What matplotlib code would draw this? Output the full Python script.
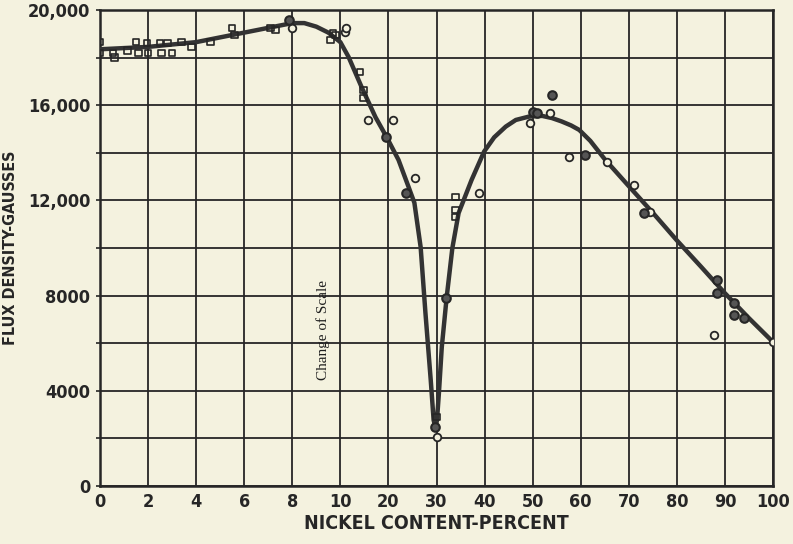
import numpy as np
import matplotlib
matplotlib.use("Agg")
import matplotlib.pyplot as plt
from matplotlib import font_manager

# ---- data ----
curve_x = [0, 1, 2, 3, 4, 5, 6, 7, 8, 8.5, 9, 9.5, 10, 11.7, 14.4, 17.3, 19.6, 22.1,
           24.2, 25.4, 26.7, 27.7, 28.8, 29.4, 29.8, 30.1, 30.5, 31.1, 32.1, 33.3,
           34.6, 37.3, 39.9, 42, 44.4, 46.5, 49.2, 52, 54, 56, 58, 59.7, 62, 65, 70,
           75, 80, 85, 90, 95, 100]
curve_y = [18350, 18400, 18450, 18550, 18650, 18850, 19050, 19250, 19450, 19450,
           19300, 19050, 18650, 18030, 16770, 15500, 14670, 13700, 12560, 11900,
           10040, 7270, 4450, 2770, 2450, 2770, 3900, 5840, 7900, 10000, 11470,
           12860, 14050, 14650, 15100, 15380, 15520, 15550, 15460, 15320, 15150,
           14960, 14500, 13730, 12600, 11480, 10320, 9220, 8100, 7050, 6050]

sq_x = [0, 0, 0.55, 0.6, 1.15, 1.5, 1.6, 1.95, 2.0, 2.5, 2.55, 2.8, 3.0, 3.4, 3.8,
        4.6, 5.5, 5.6, 7.1, 7.3, 9.6, 9.7, 9.8, 14.1, 14.8, 14.8, 30, 34.0, 34.0, 33.8]
sq_y = [18650, 18190, 18190, 18000, 18300, 18650, 18190, 18620, 18190, 18620, 18200,
        18620, 18200, 18660, 18440, 18660, 19240, 18950, 19240, 19160, 18740, 19030,
        18950, 17400, 16630, 16300, 2900, 12140, 11600, 11300]

open_x = [8.0, 11.0, 11.2, 15.8, 20.9, 25.5, 30, 38.9, 49.4, 53.6, 57.5, 65.5, 71,
          74.4, 87.7, 100]
open_y = [19240, 19070, 19240, 15380, 15380, 12930, 2060, 12310, 15250, 15670, 13830,
          13610, 12650, 11510, 6345, 6050]

fill_x = [7.85, 19.5, 23.6, 29.7, 31.9, 50.0, 51, 54.1, 60.8, 73.1, 88.3, 88.3, 91.8,
          91.8, 93.9]
fill_y = [19580, 14670, 12300, 2480, 7895, 15720, 15670, 16430, 13910, 11470, 8660,
          8110, 7690, 7180, 7056]

x_ticks = [0, 2, 4, 6, 8, 10, 20, 30, 40, 50, 60, 70, 80, 90, 100]
y_major = [0, 4000, 8000, 12000, 16000, 20000]
y_major_labels = ["0", "4000", "8000", "12,000", "16,000", "20,000"]
y_minor = [2000, 6000, 10000, 14000, 18000]

# ---- style ----
BG = "#f4f2df"
INK = "#262626"
LAB = font_manager.FontProperties(family=["DejaVu Sans"], weight="bold",
                                  stretch="condensed", size=13)
XLAB = font_manager.FontProperties(family=["DejaVu Sans"], weight="bold",
                                   stretch="condensed", size=14)
YLAB = font_manager.FontProperties(family=["DejaVu Sans"], weight="bold",
                                   stretch="condensed", size=11.5)

fig = plt.figure(figsize=(7.93, 5.44), dpi=100, facecolor=BG)
ax = fig.add_axes([100 / 793, 1 - 486 / 544, 673 / 793, 476 / 544], facecolor=BG)


def fwd(x):
    x = np.asarray(x, dtype=float)
    return np.where(x <= 10, x / 2.0, 5 + (x - 10) / 10.0)


def inv(u):
    u = np.asarray(u, dtype=float)
    return np.where(u <= 5, u * 2.0, 10 + (u - 5) * 10.0)


ax.set_xscale("function", functions=(fwd, inv))
ax.set_xlim(0, 100)
ax.set_ylim(0, 20000)

ax.set_xticks(x_ticks)
ax.set_xticklabels([str(t) for t in x_ticks])
ax.set_yticks(y_major)
ax.set_yticklabels(y_major_labels)
ax.set_yticks(y_minor, minor=True)
ax.xaxis.set_minor_locator(matplotlib.ticker.NullLocator())

ax.grid(True, which="both", color=INK, linewidth=1.3)
ax.set_axisbelow(True)
for s in ax.spines.values():
    s.set_color(INK)
    s.set_linewidth(1.8)

ax.tick_params(axis="y", which="both", length=3, width=1.2, color=INK, pad=4)
ax.tick_params(axis="x", which="both", length=0, pad=5)
for lab in ax.get_xticklabels() + ax.get_yticklabels():
    lab.set_fontproperties(LAB)
    lab.set_color(INK)

ax.plot(curve_x, curve_y, color="#333333", linewidth=3.2, solid_joinstyle="round",
        solid_capstyle="round", zorder=3)
ax.scatter(sq_x, sq_y, marker="s", s=22, facecolors="none", edgecolors=INK,
           linewidths=1.2, zorder=4)
ax.scatter(open_x, open_y, marker="o", s=30, facecolors=BG, edgecolors=INK,
           linewidths=1.3, zorder=4)
ax.scatter(fill_x, fill_y, marker="o", s=38, facecolors="#555555", edgecolors=INK,
           linewidths=1.5, zorder=4)

ax.text(9.3, 6550, "Change of Scale", rotation=90, ha="center", va="center",
        family=["Liberation Serif", "DejaVu Serif"], fontsize=11, color="#1e1e1e",
        zorder=5)

ax.set_xlabel("NICKEL CONTENT-PERCENT", fontproperties=XLAB, color=INK, labelpad=2)
ax.set_ylabel("FLUX DENSITY-GAUSSES", fontproperties=YLAB, color=INK)
ax.yaxis.set_label_coords(-(100 - 18) / 673, 0.5)

fig.savefig("out.png", dpi=100, facecolor=BG)
